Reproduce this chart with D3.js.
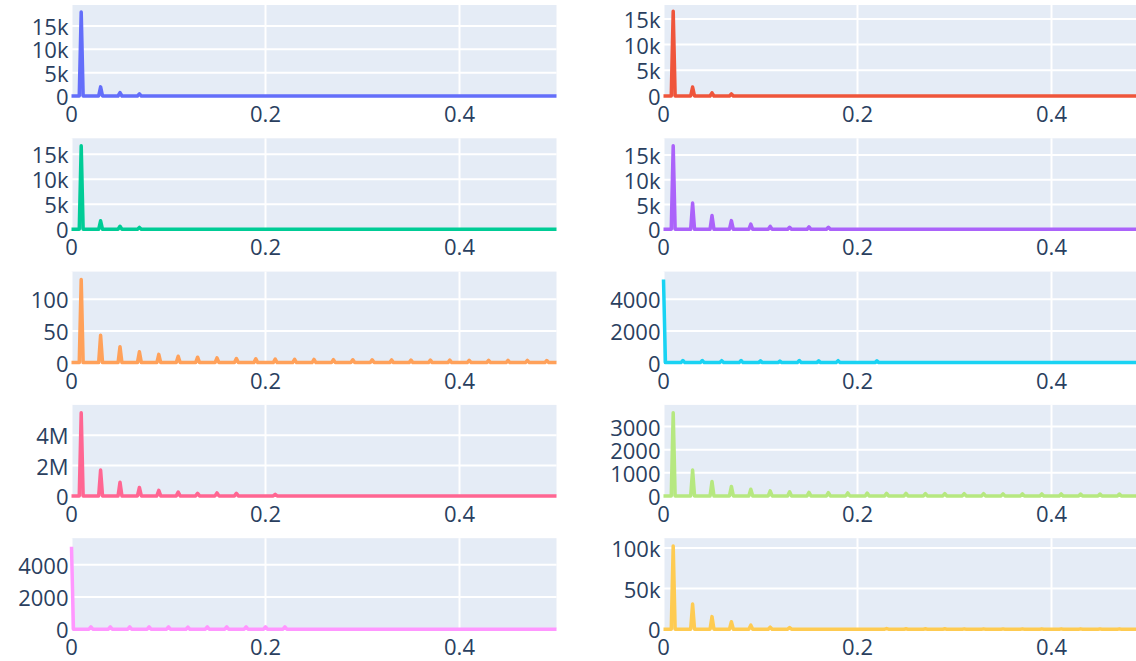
<!DOCTYPE html>
<html>
<head>
<meta charset="utf-8">
<script src="https://cdn.jsdelivr.net/npm/d3@7"></script>
<style>
  body { margin: 0; background: #fff; }
  .tick-label { font-family: "Open Sans", sans-serif; font-size: 22px; fill: #2a3f5f; }
</style>
</head>
<body>
<svg id="chart" width="1136" height="661"></svg>
<script>
// frequency of each harmonic peak (cycles / sample)
var oddFreqs = [0.01, 0.03, 0.05, 0.07, 0.09, 0.11, 0.13, 0.15, 0.17, 0.19, 0.21, 0.23, 0.25,
                0.27, 0.29, 0.31, 0.33, 0.35, 0.37, 0.39, 0.41, 0.43, 0.45, 0.47, 0.49];
var evenFreqs = [0, 0.02, 0.04, 0.06, 0.08, 0.10, 0.12, 0.14, 0.16, 0.18, 0.20, 0.22, 0.24,
                 0.26, 0.28, 0.30, 0.32, 0.34, 0.36, 0.38, 0.40, 0.42, 0.44, 0.46, 0.48];

// peak magnitudes
var blueAmp    = [18000, 1950, 720, 450, 0, 0, 0, 0, 0, 0, 0, 0, 0, 0, 0, 0, 0, 0, 0, 0, 0, 0, 0, 0, 0];
var redAmp     = [16500, 1750, 620, 400, 0, 0, 0, 0, 0, 0, 0, 0, 0, 0, 0, 0, 0, 0, 0, 0, 0, 0, 0, 0, 0];
var greenAmp   = [16700, 1700, 600, 380, 0, 0, 0, 0, 0, 0, 0, 0, 0, 0, 0, 0, 0, 0, 0, 0, 0, 0, 0, 0, 0];
var purpleAmp  = [16900, 5300, 2800, 1750, 1050, 600, 400, 500, 400, 0, 0, 0, 0, 0, 0, 0, 0, 0, 0, 0, 0, 0, 0, 0, 0];
var orangeAmp  = [131, 43, 25, 17, 13, 10, 8.5, 7.5, 6.5, 6, 5.5, 5.2, 5, 4.7, 4.5, 4.3, 4.2, 4, 3.9, 3.8, 3.7, 3.6, 3.5, 3.4, 3.3];
var cyanAmp    = [5240, 130, 130, 120, 130, 110, 100, 130, 110, 120, 0, 110, 0, 0, 0, 0, 0, 0, 0, 0, 0, 0, 0, 0, 0];
var pinkAmp    = [5480000, 1700000, 900000, 560000, 370000, 250000, 170000, 200000, 170000, 0, 100000, 0, 0,
                  0, 0, 0, 0, 0, 0, 0, 0, 0, 0, 0, 0];
var limeAmp    = [3600, 1120, 620, 410, 290, 220, 180, 150, 140, 130, 120, 110, 110, 100, 100, 95, 95, 90, 90, 85, 85, 80, 80, 80, 80];
var magentaAmp = [5120, 140, 140, 140, 140, 140, 130, 140, 140, 140, 150, 140, 0, 0, 0, 0, 0, 0, 0, 0, 0, 0, 0, 0, 0];
var yellowAmp  = [102500, 31000, 15500, 9200, 5000, 2500, 2000, 0, 0, 0, 0, 800, 500, 500, 500, 400, 400, 400, 400, 400, 400, 400, 400, 400, 400];

// axis ranges and ticks of each panel
var yMax   = [19500, 17700, 18200, 18400, 143.5, 5740, 6000000, 3940, 5650, 112000];
var yTicks = [[0, 5000, 10000, 15000], [0, 5000, 10000, 15000], [0, 5000, 10000, 15000], [0, 5000, 10000, 15000],
              [0, 50, 100], [0, 2000, 4000], [0, 2000000, 4000000], [0, 1000, 2000, 3000], [0, 2000, 4000], [0, 50000, 100000]];
var yTickLabels = [['0', '5k', '10k', '15k'], ['0', '5k', '10k', '15k'], ['0', '5k', '10k', '15k'], ['0', '5k', '10k', '15k'],
                   ['0', '50', '100'], ['0', '2000', '4000'], ['0', '2M', '4M'], ['0', '1000', '2000', '3000'],
                   ['0', '2000', '4000'], ['0', '50k', '100k']];
var xTicks = [0, 0.2, 0.4];
var xTickLabels = ['0', '0.2', '0.4'];

var panels = [
  { freqs: oddFreqs,  amps: blueAmp,    color: '#636efa' },
  { freqs: oddFreqs,  amps: redAmp,     color: '#EF553B' },
  { freqs: oddFreqs,  amps: greenAmp,   color: '#00cc96' },
  { freqs: oddFreqs,  amps: purpleAmp,  color: '#ab63fa' },
  { freqs: oddFreqs,  amps: orangeAmp,  color: '#FFA15A' },
  { freqs: evenFreqs, amps: cyanAmp,    color: '#19d3f3' },
  { freqs: oddFreqs,  amps: pinkAmp,    color: '#FF6692' },
  { freqs: oddFreqs,  amps: limeAmp,    color: '#B6E880' },
  { freqs: evenFreqs, amps: magentaAmp, color: '#FF97FF' },
  { freqs: oddFreqs,  amps: yellowAmp,  color: '#FECB52' }
];

var colLeft = [71.5, 663.5],
  plotW = 485,
  plotH = 91,
  rowTop = 5,
  rowStep = 133.3,
  binW = 0.002;

var svg = d3.select('#chart');

panels.forEach(function(p, i) {
  var left = colLeft[i % 2],
    top = rowTop + Math.floor(i / 2) * rowStep;

  var x = d3.scaleLinear().domain([0, 0.5]).range([left, left + plotW]);
  var y = d3.scaleLinear().domain([0, yMax[i]]).range([top + plotH, top]);

  var g = svg.append('g');

  // background
  g.append('rect')
    .attr('x', left)
    .attr('y', top)
    .attr('width', plotW)
    .attr('height', plotH)
    .attr('fill', '#E5ECF6');

  // grid
  g.selectAll('.hgrid')
    .data(yTicks[i])
    .enter().append('line')
    .attr('x1', left).attr('x2', left + plotW)
    .attr('y1', function(d) { return y(d); })
    .attr('y2', function(d) { return y(d); })
    .attr('stroke', '#fff')
    .attr('stroke-width', 2);

  g.selectAll('.vgrid')
    .data(xTicks)
    .enter().append('line')
    .attr('x1', function(d) { return x(d); })
    .attr('x2', function(d) { return x(d); })
    .attr('y1', top).attr('y2', top + plotH)
    .attr('stroke', '#fff')
    .attr('stroke-width', 2);

  // spectrum: one narrow spike per harmonic
  var pts = [];
  p.freqs.forEach(function(f, k) {
    var a = p.amps[k];
    if (!a) return;
    if (f === 0) {
      pts.push([0, a]);
      pts.push([binW, 0]);
    } else {
      pts.push([f - binW, 0]);
      pts.push([f, a]);
      pts.push([f + binW, 0]);
    }
  });
  if (pts[0][0] > 0) pts.unshift([0, 0]);
  pts.push([0.5, 0]);

  g.append('path')
    .datum(pts)
    .attr('fill', p.color)
    .attr('fill-opacity', 0.5)
    .attr('d', d3.area()
      .x(function(d) { return x(d[0]); })
      .y0(y(0))
      .y1(function(d) { return y(d[1]); }));

  g.append('path')
    .datum(pts)
    .attr('fill', 'none')
    .attr('stroke', p.color)
    .attr('stroke-width', 3.5)
    .attr('stroke-linejoin', 'round')
    .attr('d', d3.line()
      .x(function(d) { return x(d[0]); })
      .y(function(d) { return y(d[1]); }));

  // tick labels
  g.selectAll('.ylab')
    .data(yTicks[i])
    .enter().append('text')
    .attr('class', 'tick-label')
    .attr('text-anchor', 'end')
    .attr('dominant-baseline', 'central')
    .attr('x', left - 3)
    .attr('y', function(d) { return y(d); })
    .text(function(d, k) { return yTickLabels[i][k]; });

  g.selectAll('.xlab')
    .data(xTicks)
    .enter().append('text')
    .attr('class', 'tick-label')
    .attr('text-anchor', 'middle')
    .attr('x', function(d) { return x(d); })
    .attr('y', top + plotH + 26)
    .text(function(d, k) { return xTickLabels[k]; });
});
</script>
</body>
</html>
